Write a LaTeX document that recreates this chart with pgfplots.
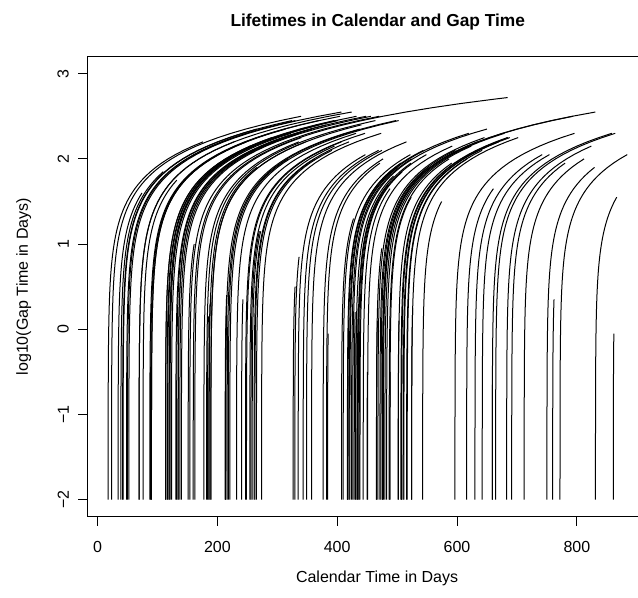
\documentclass[border=0pt]{standalone}
\usepackage{fontspec}
\setmainfont{Liberation Sans}
\usepackage{pgfplots}
\usepackage{pgfplotstable}
\pgfplotsset{compat=1.18}
% template: gap g (days) and log10(g)
\pgfplotstableread{
g ly
0.010000 -2.00
0.011220 -1.95
0.012589 -1.90
0.014125 -1.85
0.015849 -1.80
0.017783 -1.75
0.019953 -1.70
0.022387 -1.65
0.025119 -1.60
0.028184 -1.55
0.031623 -1.50
0.035481 -1.45
0.039811 -1.40
0.044668 -1.35
0.050119 -1.30
0.056234 -1.25
0.063096 -1.20
0.070795 -1.15
0.079433 -1.10
0.089125 -1.05
0.10000 -1.00
0.11220 -0.95
0.12589 -0.90
0.14125 -0.85
0.15849 -0.80
0.17783 -0.75
0.19953 -0.70
0.22387 -0.65
0.25119 -0.60
0.28184 -0.55
0.31623 -0.50
0.35481 -0.45
0.39811 -0.40
0.44668 -0.35
0.50119 -0.30
0.56234 -0.25
0.63096 -0.20
0.70795 -0.15
0.79433 -0.10
0.89125 -0.05
1.0000 0.00
1.1220 0.05
1.2589 0.10
1.4125 0.15
1.5849 0.20
1.7783 0.25
1.9953 0.30
2.2387 0.35
2.5119 0.40
2.8184 0.45
3.1623 0.50
3.5481 0.55
3.9811 0.60
4.4668 0.65
5.0119 0.70
5.6234 0.75
6.3096 0.80
7.0795 0.85
7.9433 0.90
8.9125 0.95
10.000 1.00
11.220 1.05
12.589 1.10
14.125 1.15
15.849 1.20
17.783 1.25
19.953 1.30
22.387 1.35
25.119 1.40
28.184 1.45
31.623 1.50
35.481 1.55
39.811 1.60
44.668 1.65
50.119 1.70
56.234 1.75
63.096 1.80
70.795 1.85
79.433 1.90
89.125 1.95
100.00 2.00
112.20 2.05
125.89 2.10
141.25 2.15
158.49 2.20
177.83 2.25
199.53 2.30
223.87 2.35
251.19 2.40
281.84 2.45
316.23 2.50
354.81 2.55
398.11 2.60
446.68 2.65
501.19 2.70
524.81 2.72
562.34 2.75
630.96 2.80
}\tmpl
\begin{document}
\begin{tikzpicture}
\begin{axis}[name=ax, scale only axis, width=412.7pt, height=345pt,
  xmin=-16.3, xmax=902, ymin=-2.2, ymax=3.2,
  xtick={0,200,400,600,800}, xticklabels={0,200,400,600,800},
  ytick={-2,-1,0,1,2,3}, yticklabels={−2,−1,0,1,2,3},
  tick align=outside, major tick length=7pt, xtick pos=bottom, ytick pos=left,
  tick style={black, line width=0.75pt},
  axis line style={draw=none},
  ticklabel style={font=\fontsize{12}{14}\selectfont},
  xticklabel style={anchor=north, inner sep=0pt, yshift=-11pt},
  yticklabel style={rotate=90, anchor=south, inner sep=0pt, yshift=7pt},
  clip=true]
\foreach \s/\L in {17.7/2.21, 23.4/2.515, 34.4/1.62, 39/1.87, 41.9/2.35, 42.7/2.46, 48.5/2.43, 50/2.3, 52.3/2.57,
  69.4/2.535, 69.4/2.2, 76/1.73, 87.3/2.45, 88.5/2.52, 90/2.35, 90/2.2, 113.5/2.45, 113.5/2.27, 116/2.5, 117/2.14,
  119.5/2.38, 119.5/2.45, 121/2.0, 123.5/2.3, 130.7/2.42, 132/2.5, 134.6/2.35, 134.6/2.2, 137.4/2.28, 140/2.48,
  151.3/1.0, 154/2.5, 159.7/2.72, 162.4/2.25,
  177.5/2.22, 182/2.46, 183.6/0.14, 185.8/0.31, 186.3/1.89, 189/2.18, 189.2/2.4, 213/0.39, 213.7/2.36, 214/0.15,
  216.3/2.44, 218.2/2.02, 220.8/2.445, 232/2.3, 240.4/0.37, 247/2.3, 248.6/2.21, 254.2/2.15, 256/1.17, 258.1/1.15,
  261.3/2.2, 262.6/2.0, 265.2/2.1, 273.8/2.28,
  326.5/0.5, 329.3/0.83, 334.9/2.03, 343.2/2.12, 348.8/2.08, 357.2/2.175, 376.5/1.99, 382.2/1.95, 384/-0.07,
  407.3/1.32, 410/2.05, 417.4/-0.57, 417/1.93, 418/2.1, 420/2.3, 421.2/1.9, 424/2.0, 426/2.366, 428.4/0.2,
  430.7/0.15, 431/1.8, 433.4/0.23, 434/1.95, 435/1.7, 436.7/2.05, 438/1.85,
  443.4/1.67, 450/-0.48, 450.7/2.15, 465.5/0.93, 465.8/0.11, 468/2.25, 471.3/2.1, 473/1.9, 475.2/2.2, 476/2.535,
  477/2.52, 479.6/2.3, 482.5/2.15, 486.7/2.0, 488/1.556, 488/-0.51, 501.8/0.1, 502/1.95, 506.3/2.25, 507.5/2.24,
  507.5/-0.28, 510.2/2.26, 511.3/2.2, 515.9/2.1, 516.8/2.0, 524.2/2.26, 524.2/0.23, 542.6/1.52,
  596.5/2.29, 616/1.63, 629.9/2.07, 642/2.06, 658.8/2.28, 658.8/-0.65, 664.4/2.29, 682.8/2.163, 691.2/1.97,
  712/1.99, 750/1.9, 759.6/0.34, 771.8/2.03, 831/1.55, 860.8/-0.05}{
  \pgfmathsetmacro\Lr{\L+0.025}
  \edef\doplot{\noexpand\addplot[black, line width=0.75pt] table[x expr=\noexpand\thisrow{g}+\s, y=ly,
    restrict expr to domain={\noexpand\thisrow{ly}}{-3:\Lr}] {\noexpand\tmpl};}
  \doplot
}
\end{axis}
\draw[line width=0.75pt] (ax.south east) -- (ax.south west) -- (ax.north west) -- (ax.north east);
\node[font=\fontsize{12}{14}\selectfont] at ([xshift=217pt,yshift=-46pt]ax.south west) {Calendar Time in Days};
\node[rotate=90, font=\fontsize{12}{14}\selectfont] at ([xshift=-48pt]ax.west) {log10(Gap Time in Days)};
\node[font=\bfseries\fontsize{13}{15}\selectfont] at ([xshift=217.5pt,yshift=26pt]ax.north west) {Lifetimes in Calendar and Gap Time};
\pgfresetboundingbox
\path[use as bounding box] ([xshift=-65.8pt,yshift=-61pt]ax.south west) rectangle ([yshift=42.5pt]ax.north east);
\end{tikzpicture}
\end{document}
